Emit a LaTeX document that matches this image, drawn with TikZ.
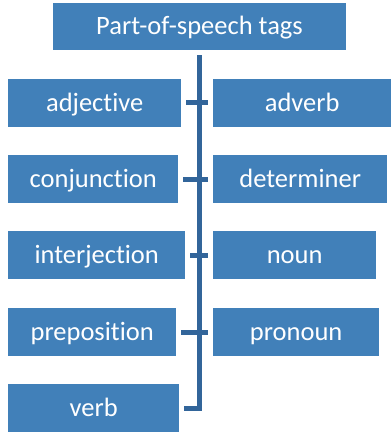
\documentclass[tikz,border=0pt]{standalone}
\usepackage{fontspec}
\setmainfont{Carlito}[Ligatures=NoCommon]
\usepackage{xcolor}
\usepackage{tikz}
\usetikzlibrary{positioning,calc}
\definecolor{posBlue}{HTML}{4180B9}
\definecolor{posLine}{HTML}{32659A}

\begin{document}
\begin{tikzpicture}[x=1pt,y=-1pt,
  tag/.style={fill=posBlue,text=white,inner sep=0pt,minimum height=48pt,
    text height=20pt,text depth=4pt,anchor=west,
    font=\fontsize{26.5}{30}\selectfont},
  branch/.style={draw=posLine,line width=5pt}]
\useasboundingbox (0,0) rectangle (391,433);
% root
\node[tag,anchor=center,minimum width=293pt,minimum height=47pt] (root) at (199.5,26.5) {Part-of-speech tags};
% left column
\node[tag,minimum width=173pt] (adj) at (8,103) {adjective};
\node[tag,minimum width=170pt] (conj) at (8,179) {conjunction};
\node[tag,minimum width=177pt] (intj) at (8,255) {interjection};
\node[tag,minimum width=168pt] (prep) at (8,332) {preposition};
\node[tag,minimum width=171pt] (verb) at (8,408) {verb};
% right column
\node[tag,minimum width=178pt] (adv) at (213,103) {adverb};
\node[tag,minimum width=174pt] (det) at (213,179) {determiner};
\node[tag,minimum width=163pt] (noun) at (213,255) {noun};
\node[tag,minimum width=166pt] (pron) at (213,332) {pronoun};
% trunk and stubs
\draw[branch] ([yshift=-5pt]root.south) |- ([xshift=5pt]verb.east);
\draw[branch] ([xshift=5pt]adj.east) -- ([xshift=-5pt]adv.west);
\draw[branch] ([xshift=5pt]conj.east) -- ([xshift=-5pt]det.west);
\draw[branch] ([xshift=5pt]intj.east) -- ([xshift=-5pt]noun.west);
\draw[branch] ([xshift=5pt]prep.east) -- ([xshift=-5pt]pron.west);
\end{tikzpicture}
\end{document}
